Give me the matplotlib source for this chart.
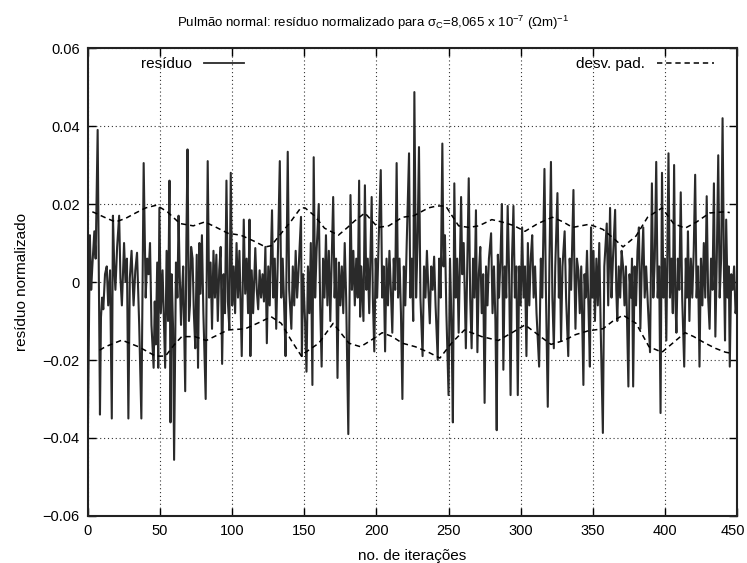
import matplotlib
matplotlib.use("Agg")
import matplotlib.pyplot as plt
import matplotlib.transforms as mtransforms
from matplotlib.lines import Line2D
import numpy as np

plt.rcParams['font.family'] = ['Liberation Sans', 'DejaVu Sans']

# residuo normalizado (iteracao, valor)
res_000_075 = [(0, -0.036), (1.3, 0.012), (2.2, -0.002), (3, 0.004), (4.4, 0.013), (5.3, 0.006),
               (6.7, 0.039), (8.3, -0.034), (9, -0.009), (9.8, -0.004), (10.6, -0.007), (11.8, 0.002),
               (13, 0.004), (14, -0.006), (15.3, 0.003), (16.5, -0.035), (17.3, 0.017), (18.2, 0.004),
               (19, -0.002), (20.2, 0.009), (21.6, 0.017), (22.5, 0.001), (23.5, -0.006), (25, 0.010),
               (26, 0.0), (27, 0.006), (28, -0.035), (29, 0.001), (30.2, 0.008), (31.6, -0.006),
               (32.8, 0.003), (34, 0.0075), (35.5, -0.011), (37, -0.035), (38.6, 0.0305), (40, -0.004),
               (41, 0.006), (42, 0.002), (43, 0.010), (44, -0.011), (45.5, -0.022), (46.3, -0.005),
               (47, -0.016), (48, 0.005), (48.7, -0.022), (49.5, 0.019), (50.5, -0.008), (51.7, 0.003),
               (52.5, -0.008), (53.5, -0.022), (54.5, 0.008), (55.5, -0.010), (56.5, 0.026), (57.2, -0.036),
               (58, 0.002), (59, -0.012), (59.7, -0.0456), (61, 0.005), (62, -0.004), (62.8, 0.017),
               (63.6, 0.002), (64.5, -0.011), (65.3, -0.002), (66, 0.004), (67.4, -0.028), (68.2, 0.010),
               (69, 0.034), (70, -0.010), (70.7, -0.006), (71.5, 0.009), (72.5, 0.006), (73.4, -0.008),
               (74.4, -0.017)]
res_075_150 = [(75.4, 0.007), (76.3, -0.022), (77.2, 0.010), (78, -0.003), (79, 0.012), (80, -0.008),
               (81.6, -0.030), (83, 0.031), (84, -0.004), (85, 0.005), (86, -0.012), (87, 0.008),
               (88, -0.004), (89, 0.007), (90, -0.010), (91, 0.003), (92, 0.009), (93, -0.021),
               (94, 0.002), (95, -0.008), (96, 0.026), (97, -0.005), (98, -0.012), (99, 0.028),
               (100, -0.006), (101, 0.004), (102, -0.008), (103, 0.010), (104, -0.004), (105, 0.008),
               (106.6, -0.019), (108, 0.016), (109, -0.003), (110, 0.006), (111, -0.008), (112, 0.016),
               (112.6, -0.019), (113.5, 0.003), (114.5, -0.008), (116, 0.0087), (117, -0.002), (118, -0.007),
               (119, 0.003), (120, -0.004), (121, 0.002), (122, -0.005), (123, 0.009), (124, -0.0157),
               (125, 0.004), (126, -0.006), (127.6, 0.0184), (128.5, -0.004), (129.5, 0.006), (130.5, -0.012),
               (131.5, 0.004), (133, 0.031), (134, -0.004), (135, 0.006), (136, -0.006), (137, -0.019),
               (138.5, 0.0334), (139.5, -0.002), (141, -0.012), (142, 0.004), (143, -0.006), (144, 0.008),
               (145, -0.004), (146, 0.003), (147.7, 0.0167), (148.3, -0.019), (149.2, 0.002)]
res_150_228 = [(150.5, -0.010), (151.5, -0.023), (152.5, 0.004), (153.5, -0.008), (154.5, 0.010), (155.6, -0.0264),
               (156.5, 0.032), (157.5, -0.004), (158.5, 0.008), (160, 0.020), (161, -0.006), (162, -0.0217),
               (163, 0.006), (164, -0.004), (165, 0.012), (166, -0.006), (167, 0.008), (168, -0.010),
               (170, 0.0218), (171, -0.004), (172, 0.006), (173, -0.0246), (174, 0.005), (175, -0.006),
               (176, 0.004), (177, -0.008), (178, 0.010), (179, -0.004), (180.5, -0.039), (182, 0.0223),
               (183, -0.002), (184, 0.008), (185, -0.006), (186, 0.006), (187, -0.004), (188, 0.026),
               (188.7, -0.0089), (189.5, 0.004), (191, -0.010), (192, 0.0248), (193, -0.002), (194, 0.006),
               (195, -0.008), (196.7, 0.0218), (197.5, -0.004), (198.5, -0.0178), (199.5, 0.006), (200.5, -0.004),
               (201.5, 0.010), (203, 0.0287), (204, -0.004), (205, 0.004), (206, -0.0178), (207, 0.006),
               (208, -0.006), (209, 0.008), (210, -0.002), (211, -0.013), (212, 0.006), (213, -0.002),
               (214, 0.0305), (215, -0.004), (216, 0.006), (217, -0.008), (218, -0.030), (219, 0.004),
               (220, -0.006), (221, 0.010), (222.6, 0.033), (223.5, -0.004), (224.5, 0.006), (225.5, -0.010),
               (226.3, 0.0487), (227.5, -0.004), (228.5, 0.010)]
res_228_303 = [(229.5, 0.0346), (230.5, -0.004), (232, -0.019), (233, 0.004), (234, -0.004), (235, 0.008),
               (236, -0.002), (237, -0.0106), (238, 0.004), (239, -0.002), (240, 0.0065), (241, -0.006),
               (242.5, -0.020), (243.5, 0.006), (244.5, -0.004), (245.7, 0.0355), (246.5, 0.004), (247.5, 0.012),
               (248.5, -0.008), (250, -0.029), (251, 0.006), (252, -0.010), (253, -0.036), (254, 0.0253),
               (255, -0.004), (256, 0.006), (257, -0.013), (258.7, 0.0218), (259.5, 0.002), (260.5, 0.010),
               (261.3, -0.005), (262, -0.017), (263, 0.004), (264, 0.0266), (265, -0.004), (266, -0.017),
               (267, 0.006), (268, -0.004), (269, 0.0184), (270, -0.018), (271, 0.002), (272, 0.009),
               (273, -0.008), (274, 0.002), (275, -0.031), (276, 0.004), (277, -0.006), (278, 0.006),
               (279.5, 0.0125), (280.5, -0.008), (281.5, 0.004), (282.5, -0.010), (283.4, -0.038), (284.2, 0.007),
               (285, -0.004), (286, 0.006), (287, 0.020), (288, -0.0225), (289, 0.004), (290, -0.004),
               (291, 0.0195), (292, 0.002), (293, -0.029), (294, 0.006), (295, 0.0195), (296, -0.004),
               (297, 0.004), (298, -0.029), (299, 0.004), (300, -0.006), (301, 0.014), (302, -0.004)]
res_303_380 = [(303, 0.004), (304, -0.019), (305, 0.010), (306, -0.006), (307, 0.006), (308, 0.012),
               (309, -0.004), (310, 0.004), (311, -0.008), (312.8, -0.0217), (314, 0.006), (315, -0.004),
               (316.5, 0.029), (317.5, -0.002), (318.8, -0.032), (320, 0.006), (321, 0.0308), (322, -0.004),
               (323, -0.017), (324, 0.004), (325.5, 0.0228), (326.5, -0.004), (327.2, 0.006), (328, -0.015),
               (329, 0.004), (330.5, 0.013), (331.5, -0.004), (333, -0.019), (334, 0.006), (335, -0.002),
               (336.6, 0.0236), (337.3, 0.002), (338, -0.012), (339, 0.006), (340, 0.003), (341, -0.008),
               (342, 0.004), (343.5, -0.0264), (344.3, 0.002), (345, -0.004), (346, 0.008), (347, -0.006),
               (348, -0.0217), (348.8, 0.014), (349.6, -0.004), (350.5, 0.008), (351.5, -0.010), (352.5, 0.006),
               (353.5, -0.006), (354.5, 0.010), (355.5, -0.012), (357, -0.0387), (358, 0.004), (359.7, 0.015),
               (360.7, -0.006), (362, 0.019), (363, -0.004), (364, 0.006), (365.5, 0.0185), (366.3, -0.002),
               (367, -0.010), (368, 0.004), (369, -0.004), (370, 0.008), (371, 0.004), (372, -0.006),
               (373, 0.004), (374.7, -0.0268), (375.5, 0.002), (376.5, -0.004), (377.2, 0.006), (378, -0.0268),
               (379, 0.004)]
res_380_450 = [(380, -0.006), (381, 0.008), (382, 0.014), (383, -0.012), (384, 0.004), (385, 0.014),
               (386, -0.004), (387, 0.004), (388.5, -0.008), (389.7, -0.018), (391, 0.0253), (392, -0.004),
               (393, 0.006), (394, 0.0308), (395, -0.004), (396, 0.004), (397, -0.0336), (398, 0.028),
               (399, -0.004), (400, 0.006), (401, -0.015), (402.5, 0.033), (403.5, -0.004), (404.5, 0.006),
               (405.5, -0.008), (406.4, 0.030), (407.2, -0.004), (408, -0.013), (409, 0.006), (410, -0.002),
               (411, 0.023), (412, -0.004), (413.4, -0.0217), (414.5, 0.006), (415.3, -0.004), (416, 0.013),
               (417, -0.010), (418, 0.006), (419, -0.004), (420, 0.008), (421, 0.0275), (422, -0.004),
               (423, 0.004), (424, -0.0217), (425, 0.006), (426, -0.006), (427, 0.010), (428, -0.004),
               (429, 0.022), (430, -0.004), (431, -0.012), (432, 0.006), (433, -0.002), (434, 0.0253),
               (435, -0.014), (436, 0.006), (437, 0.0325), (438, -0.004), (439, 0.006), (440, 0.042),
               (441, 0.002), (441.7, -0.015), (442.5, 0.016), (443.5, -0.004), (444.3, 0.004), (445, -0.0217),
               (446, 0.002), (447, -0.002), (448, 0.004), (449, -0.008), (450, -0.005)]

# desvio padrao (envelope superior e inferior)
dp_sup_x = [3, 5, 12, 19, 26, 33, 40, 47.5, 55, 63.7, 73, 81, 89, 97, 106, 115, 123, 127, 134, 141,
            147.5, 150.5, 157, 164, 173.6, 180, 185, 192, 201, 208.5, 218, 226, 236, 242, 248, 257,
            264, 271, 280, 287, 295, 303, 312, 322, 329, 336, 347.5, 357, 365, 371, 380, 388, 398,
            406, 414, 422, 431, 441.5, 445]
dp_sup_y = [0.0180, 0.0177, 0.0165, 0.0154, 0.0163, 0.0177, 0.0190, 0.0197, 0.0180, 0.0150, 0.0144,
            0.0154, 0.0140, 0.0125, 0.0120, 0.0105, 0.0090, 0.0093, 0.0125, 0.0157, 0.0190, 0.0190,
            0.0170, 0.0138, 0.0120, 0.0140, 0.0157, 0.0177, 0.0140, 0.0144, 0.0166, 0.0170, 0.0190,
            0.0195, 0.0195, 0.0144, 0.0140, 0.0144, 0.0160, 0.0154, 0.0145, 0.0130, 0.0150, 0.0166,
            0.0155, 0.0140, 0.0148, 0.0135, 0.0110, 0.0090, 0.0118, 0.0166, 0.0190, 0.0150, 0.0138,
            0.0154, 0.0177, 0.0180, 0.0178]
dp_inf_x = [8, 12, 23.5, 35, 41, 46.8, 53.7, 60, 65, 74, 82, 97, 109, 118, 127, 134, 141, 148, 151,
            160, 170, 181, 189, 196, 204, 211, 218, 227, 236, 244, 252, 261, 273, 284.5, 294, 303,
            312, 321, 330, 338, 347, 357, 364, 371, 380, 389, 398, 406, 414, 420, 427, 435, 442, 445]
dp_inf_y = [-0.0175, -0.0166, -0.0149, -0.0166, -0.0178, -0.0190, -0.0190, -0.0160, -0.0140, -0.0140,
            -0.0150, -0.0123, -0.0120, -0.0105, -0.0089, -0.0106, -0.0150, -0.0190, -0.0180, -0.0157,
            -0.0106, -0.0157, -0.0166, -0.0150, -0.0130, -0.0140, -0.0157, -0.0166, -0.0180, -0.0195,
            -0.0157, -0.0123, -0.0140, -0.0150, -0.0130, -0.0110, -0.0135, -0.0160, -0.0150, -0.0135,
            -0.0125, -0.0120, -0.0100, -0.0085, -0.0106, -0.0166, -0.0180, -0.0155, -0.0130, -0.0140,
            -0.0155, -0.0170, -0.0180, -0.0182]

x_ticks = [0, 50, 100, 150, 200, 250, 300, 350, 400, 450]
y_ticks = [-0.06, -0.04, -0.02, 0, 0.02, 0.04, 0.06]
y_labels = ["\u22120.06", "\u22120.04", "\u22120.02", "0", "0.02", "0.04", "0.06"]

res = np.array(res_000_075 + res_075_150 + res_150_228 + res_228_303 + res_303_380 + res_380_450)

fig = plt.figure(figsize=(7.47, 5.63), dpi=100)
ax = fig.add_axes([0.1178, 0.0835, 0.8688, 0.8312])

ax.plot(res[:, 0], res[:, 1], color="#2a2a2a", lw=1.5)
ax.plot(dp_sup_x, dp_sup_y, color="black", lw=1.1, dashes=(3.5, 2.5))
ax.plot(dp_inf_x, dp_inf_y, color="black", lw=1.1, dashes=(3.5, 2.5))

ax.set_xlim(0, 450)
ax.set_ylim(-0.06, 0.06)
ax.set_xticks(x_ticks)
ax.set_yticks(y_ticks)
ax.set_yticklabels(y_labels)
ax.tick_params(direction="in", length=6, width=1, top=True, right=True, labelsize=10.5, pad=6)
ax.grid(True, color="black", linestyle=(0, (1, 2.5)), lw=0.8, alpha=0.8)
for s in ax.spines.values():
    s.set_linewidth(1.5)
    s.set_color("#222222")

# o ultimo rotulo (450) fica colado na borda, como no original
last = ax.get_xticklabels()[-1]
last.set_transform(last.get_transform() + mtransforms.ScaledTranslation(-4 / 100, 0, fig.dpi_scale_trans))

ax.set_xlabel("no. de itera\u00e7\u00f5es", fontsize=11, labelpad=8)
ax.set_ylabel("res\u00edduo normalizado", fontsize=11, labelpad=10)
titulo = ("Pulm\u00e3o normal: res\u00edduo normalizado para "
          "$\\mathregular{\\sigma_C}$=8,065 x 10$^{\\mathregular{-7}}$ "
          "($\\mathregular{\\Omega}$m)$^{\\mathregular{-1}}$")
fig.suptitle(titulo, x=0.5, y=0.975, fontsize=9.5)

h1 = [Line2D([], [], color="#2a2a2a", lw=1.3)]
h2 = [Line2D([], [], color="black", lw=1.1, dashes=(3.5, 2.5))]
leg1 = ax.legend(h1, ["res\u00edduo"], loc="upper left", bbox_to_anchor=(0.06, 1.01),
                 frameon=False, markerfirst=False, handlelength=2.6, fontsize=11)
ax.add_artist(leg1)
ax.legend(h2, ["desv. pad."], loc="upper right", bbox_to_anchor=(0.985, 1.01),
          frameon=False, markerfirst=False, handlelength=3.7, fontsize=11)

fig.savefig("out.png", dpi=100)
